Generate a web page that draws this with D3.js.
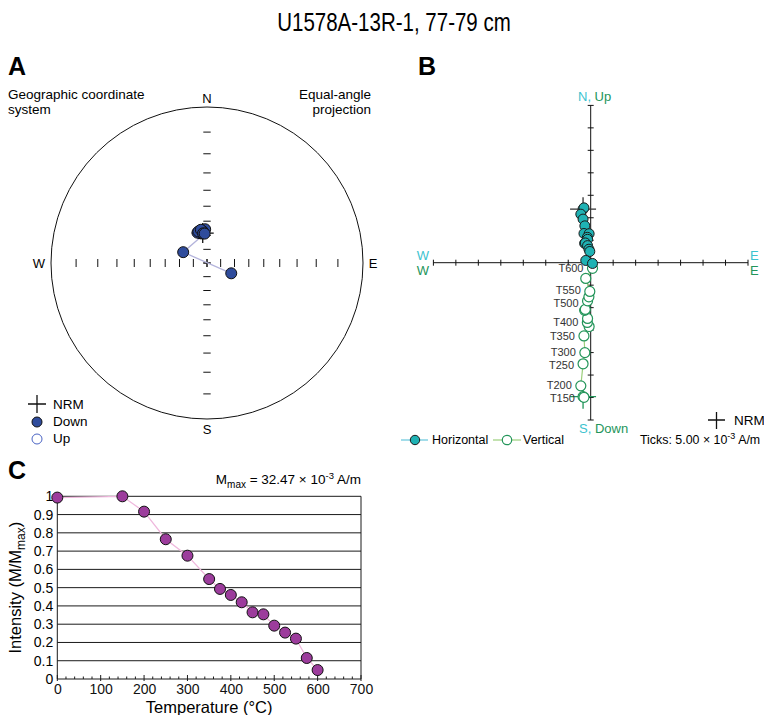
<!DOCTYPE html>
<html lang="en">
<head>
<meta charset="UTF-8">
<title>U1578A-13R-1, 77-79 cm</title>
<script src="https://d3js.org/d3.v7.min.js"></script>
<style>
  body { margin: 0; background: #fff; }
  svg { display: block; font-family: "Liberation Sans", Arial, sans-serif; }
</style>
</head>
<body>
<div id="chart"></div>
<script>
// demagnetization steps (NRM plotted at 0 °C)
const steps = ["NRM", "T150", "T200", "T250", "T300", "T350", "T375", "T400",
               "T425", "T450", "T475", "T500", "T525", "T550", "T575", "T600"];
const temps = [0, 150, 200, 250, 300, 350, 375, 400, 425, 450, 475, 500, 525, 550, 575, 600];
const intensity = [0.993, 1.0, 0.916, 0.765, 0.675, 0.547, 0.493, 0.46, 0.42, 0.365,
                   0.354, 0.292, 0.254, 0.221, 0.115, 0.049];
// vector components in 10^-3 A/m
const east  = [-1.7, -1.5, -2.2, -1.7, -1.3, -1.5, -0.35, -0.75, -0.7, -1.35, -1.2, -0.7, -0.4, -0.2, -1.1, 0.4];
const north = [11.9, 12.2, 10.8, 9.7, 8.2, 6.5, 6.45, 5.65, 5.2, 4.3, 4.4, 3.8, 3.0, 2.5, 0.5, -0.17];
const down  = [29.8, 29.95, 27.4, 22.5, 20.0, 16.3, 14.2, 13.3, 12.4, 10.6, 10.4, 8.5, 7.6, 6.4, 3.5, 1.25];
const labelled = ["T150", "T200", "T250", "T300", "T350", "T400", "T500", "T550", "T600"];

const zTicks = d3.range(-35, 36, 5);
const incTicks = d3.range(10, 90, 10);
const tempTicks = d3.range(0, 701, 100);
const tempMinor = d3.range(0, 701, 20);
const intTicks = d3.range(0, 11).map(d => d / 10);

const cyan = "#3cc3cf", green = "#23955a";

const svg = d3.select("#chart").append("svg")
    .attr("width", 764)
    .attr("height", 715);

// title and panel letters
svg.append("g")
    .attr("transform", "translate(394,31) scale(0.82,1)")
  .append("text")
    .attr("text-anchor", "middle")
    .style("font-size", "25px")
    .text("U1578A-13R-1, 77-79 cm");

[["A", 8, 75], ["B", 418, 75], ["C", 8, 479]].forEach(([t, x, y]) => {
  svg.append("text").attr("x", x).attr("y", y)
      .style("font-size", "25px").style("font-weight", "bold")
      .text(t);
});

// ---------- A: equal-angle stereonet ----------
const cx = 207, cy = 263, R = 156;
const proj = d3.geoStereographic()
    .scale(R)
    .translate([cx, cy])
    .rotate([0, -90]);
const pt = (dec, inc) => proj([180 - dec, inc]);

const dirs = steps.map((s, i) => ({
  step: s,
  dec: Math.atan2(east[i], north[i]) * 180 / Math.PI,
  inc: Math.atan2(down[i], Math.hypot(east[i], north[i])) * 180 / Math.PI
}));

const A = svg.append("g");
A.append("circle").attr("cx", cx).attr("cy", cy).attr("r", R)
    .attr("fill", "none").attr("stroke", "#111");

// axis ticks every 10° of inclination
incTicks.concat([90]).forEach(inc => {
  [0, 180].forEach(dec => {
    const [x, y] = pt(dec, inc);
    A.append("line").attr("x1", x - 3.7).attr("x2", x + 3.7).attr("y1", y).attr("y2", y)
        .attr("stroke", "#111");
  });
  [90, 270].forEach(dec => {
    const [x, y] = pt(dec, inc);
    A.append("line").attr("x1", x).attr("x2", x).attr("y1", y - 4).attr("y2", y + 4)
        .attr("stroke", "#111");
  });
});

const dirText = [["N", cx, 103], ["S", cx, 434], ["W", 39, 268], ["E", 373, 268]];
dirText.forEach(([t, x, y]) => {
  A.append("text").attr("x", x).attr("y", y).attr("text-anchor", "middle")
      .style("font-size", "13px").text(t);
});

A.append("text").attr("x", 8).attr("y", 99).style("font-size", "13.5px").text("Geographic coordinate");
A.append("text").attr("x", 8).attr("y", 114).style("font-size", "13.5px").text("system");
A.append("text").attr("x", 371).attr("y", 99).attr("text-anchor", "end").style("font-size", "13.5px").text("Equal-angle");
A.append("text").attr("x", 371).attr("y", 114).attr("text-anchor", "end").style("font-size", "13.5px").text("projection");

// NRM cross
const nrmA = pt(dirs[0].dec, dirs[0].inc);
A.append("path")
    .attr("d", `M${nrmA[0] - 11},${nrmA[1]}h22M${nrmA[0]},${nrmA[1] - 10}v20`)
    .attr("stroke", "#111").attr("stroke-width", 1.3);

A.append("path")
    .datum(dirs)
    .attr("fill", "none")
    .attr("stroke", "#b4b4dc")
    .attr("stroke-width", 1.3)
    .attr("d", d3.line().x(d => pt(d.dec, d.inc)[0]).y(d => pt(d.dec, d.inc)[1]));

A.selectAll(".dir")
  .data(dirs)
  .join("circle")
    .attr("cx", d => pt(d.dec, d.inc)[0])
    .attr("cy", d => pt(d.dec, d.inc)[1])
    .attr("r", 5.5)
    .attr("fill", d => d.inc >= 0 ? "#2f4c9c" : "#fff")
    .attr("stroke", "#111");

// legend A
A.append("path").attr("d", "M28,404h18M37,395v18").attr("stroke", "#111").attr("stroke-width", 1.3);
A.append("text").attr("x", 53).attr("y", 409).style("font-size", "13.5px").text("NRM");
A.append("circle").attr("cx", 37).attr("cy", 422).attr("r", 5).attr("fill", "#2f4c9c").attr("stroke", "#111");
A.append("text").attr("x", 53).attr("y", 426).style("font-size", "13.5px").text("Down");
A.append("circle").attr("cx", 37).attr("cy", 439).attr("r", 5).attr("fill", "#fff").attr("stroke", "#4a64c4");
A.append("text").attr("x", 53).attr("y", 443).style("font-size", "13.5px").text("Up");

// ---------- B: Zijderveld diagram ----------
const zx = d3.scaleLinear().domain([-35, 35]).range([433.4, 748]);
const zy = d3.scaleLinear().domain([-35, 35]).range([420, 105.4]);
const B = svg.append("g");

B.append("line").attr("x1", zx(-35)).attr("x2", zx(35)).attr("y1", zy(0)).attr("y2", zy(0)).attr("stroke", "#111");
B.append("line").attr("x1", zx(0)).attr("x2", zx(0)).attr("y1", zy(-35)).attr("y2", zy(35)).attr("stroke", "#111");
zTicks.filter(v => v !== 0).forEach(v => {
  B.append("line").attr("x1", zx(v)).attr("x2", zx(v)).attr("y1", zy(0) - 3).attr("y2", zy(0) + 3).attr("stroke", "#111");
  B.append("line").attr("x1", zx(0) - 3).attr("x2", zx(0) + 3).attr("y1", zy(v)).attr("y2", zy(v)).attr("stroke", "#111");
});

const twoTone = (x, y, a, b) => {
  const t = B.append("text").attr("x", x).attr("y", y).style("font-size", "13px");
  t.append("tspan").attr("fill", cyan).text(a);
  t.append("tspan").attr("fill", green).text(b);
};
twoTone(578, 101, "N,", " Up");
twoTone(579, 433, "S,", " Down");
B.append("text").attr("x", 429).attr("y", 260).attr("text-anchor", "end").attr("fill", cyan).style("font-size", "13px").text("W");
B.append("text").attr("x", 429).attr("y", 275).attr("text-anchor", "end").attr("fill", green).style("font-size", "13px").text("W");
B.append("text").attr("x", 750).attr("y", 260).attr("fill", cyan).style("font-size", "13px").text("E");
B.append("text").attr("x", 750).attr("y", 275).attr("fill", green).style("font-size", "13px").text("E");

const vecs = steps.map((s, i) => ({ step: s, e: east[i], n: north[i], d: down[i] }));

// NRM crosses
const h0 = [zx(vecs[0].e), zy(vecs[0].n)], v0 = [zx(vecs[0].e), zy(-vecs[0].d)];
B.append("path").attr("d", `M${h0[0] - 13},${h0[1]}h26M${h0[0]},${h0[1] - 12}v24`)
    .attr("stroke", "#333").attr("stroke-width", 1.3);
B.append("path").attr("d", `M${v0[0] - 13},${v0[1]}h26M${v0[0]},${v0[1] - 12}v24`)
    .attr("stroke", green).attr("stroke-width", 1.3);

B.append("path").datum(vecs)
    .attr("fill", "none").attr("stroke", "#9ccf7c").attr("stroke-width", 1.2)
    .attr("d", d3.line().x(d => zx(d.e)).y(d => zy(-d.d)));
B.append("path").datum(vecs)
    .attr("fill", "none").attr("stroke", "#66c6dc").attr("stroke-width", 1.2)
    .attr("d", d3.line().x(d => zx(d.e)).y(d => zy(d.n)));

B.selectAll(".vert")
  .data(vecs)
  .join("circle")
    .attr("cx", d => zx(d.e)).attr("cy", d => zy(-d.d))
    .attr("r", 5).attr("fill", "#fff").attr("stroke", green).attr("stroke-width", 1.2);
B.selectAll(".hor")
  .data(vecs)
  .join("circle")
    .attr("cx", d => zx(d.e)).attr("cy", d => zy(d.n))
    .attr("r", 5).attr("fill", "#1fb2b4").attr("stroke", "#1a1a1a");

// step labels, nudged apart so they do not collide
const labs = vecs.filter(d => labelled.includes(d.step))
    .map(d => ({ step: d.step, x: zx(d.e) - 9, y: zy(-d.d) }))
    .sort((a, b) => a.y - b.y);
for (let k = 0; k < 30; k++) {
  for (let i = 1; i < labs.length; i++) {
    const gap = labs[i].y - labs[i - 1].y;
    if (gap < 13) {
      const shift = (13 - gap) / 2;
      labs[i - 1].y -= shift;
      labs[i].y += shift;
    }
  }
}
B.selectAll(".lab")
  .data(labs)
  .join("text")
    .attr("x", d => d.x).attr("y", d => d.y + 4)
    .attr("text-anchor", "end")
    .attr("fill", "#333")
    .style("font-size", "11px")
    .text(d => d.step);

// legend B
B.append("path").attr("d", "M401,440h27").attr("stroke", "#66c6dc").attr("stroke-width", 1.2);
B.append("circle").attr("cx", 415).attr("cy", 440).attr("r", 4.7).attr("fill", "#1fb2b4").attr("stroke", "#1a1a1a");
B.append("text").attr("x", 432).attr("y", 444).style("font-size", "12.5px").text("Horizontal");
B.append("path").attr("d", "M493,440h28").attr("stroke", "#9ccf7c").attr("stroke-width", 1.2);
B.append("circle").attr("cx", 507).attr("cy", 440).attr("r", 4.7).attr("fill", "#fff").attr("stroke", green).attr("stroke-width", 1.2);
B.append("text").attr("x", 523).attr("y", 444).style("font-size", "12.5px").text("Vertical");
B.append("path").attr("d", "M708,420h17M716.5,412v17").attr("stroke", "#111").attr("stroke-width", 1.3);
B.append("text").attr("x", 734).attr("y", 425).style("font-size", "13.5px").text("NRM");
const tk = B.append("text").attr("x", 640).attr("y", 444).style("font-size", "12.4px");
tk.append("tspan").text("Ticks: 5.00 × 10");
tk.append("tspan").attr("dy", -5).style("font-size", "9px").text("-3");
tk.append("tspan").attr("dy", 5).text(" A/m");

// ---------- C: intensity decay ----------
const x = d3.scaleLinear().domain([0, 700]).range([57.3, 361]);
const y = d3.scaleLinear().domain([0, 1]).range([679, 496.3]);
const C = svg.append("g");

intTicks.forEach(v => {
  C.append("line").attr("x1", x(0)).attr("x2", x(700)).attr("y1", y(v)).attr("y2", y(v))
      .attr("stroke", "#1a1a1a");
  C.append("text").attr("x", x(0) - 4).attr("y", y(v) + 5).attr("text-anchor", "end")
      .style("font-size", "14px")
      .text(v === 0 ? "0" : v === 1 ? "1" : v.toFixed(1));
});
C.append("line").attr("x1", x(0)).attr("x2", x(0)).attr("y1", y(0)).attr("y2", y(1)).attr("stroke", "#1a1a1a");
C.append("line").attr("x1", x(700)).attr("x2", x(700)).attr("y1", y(0)).attr("y2", y(1)).attr("stroke", "#1a1a1a");
tempMinor.forEach(v => {
  const major = v % 100 === 0;
  C.append("line").attr("x1", x(v)).attr("x2", x(v))
      .attr("y1", y(0) - (major ? 4 : 2.5)).attr("y2", y(0) + (major ? 2 : 0))
      .attr("stroke", "#1a1a1a");
});
C.append("g")
    .attr("transform", `translate(0,${y(0)})`)
    .call(d3.axisBottom(x).tickValues(tempTicks).tickSize(0).tickPadding(5))
    .call(g => g.select(".domain").remove())
    .call(g => g.selectAll("text").style("font-size", "14px").attr("fill", "#111")
        .style("font-family", "Liberation Sans, Arial, sans-serif"));

C.append("text").attr("x", x(350)).attr("y", 713).attr("text-anchor", "middle")
    .style("font-size", "16.5px").text("Temperature (°C)");
const yl = C.append("text").attr("transform", `translate(21,${y(0.5)}) rotate(-90)`)
    .attr("text-anchor", "middle").style("font-size", "16.5px");
yl.append("tspan").text("Intensity (M/M");
yl.append("tspan").attr("dy", 4).style("font-size", "12px").text("max");
yl.append("tspan").attr("dy", -4).text(")");

const mm = C.append("text").attr("x", x(700)).attr("y", 484).attr("text-anchor", "end")
    .style("font-size", "13.5px");
mm.append("tspan").text("M");
mm.append("tspan").attr("dy", 3.5).style("font-size", "10px").text("max");
mm.append("tspan").attr("dy", -3.5).text(" = 32.47 × 10");
mm.append("tspan").attr("dy", -5).style("font-size", "9.5px").text("-3");
mm.append("tspan").attr("dy", 5).text(" A/m");

C.append("path").datum(temps)
    .attr("fill", "none").attr("stroke", "#efb8dd").attr("stroke-width", 1.3)
    .attr("d", d3.line().x(d => x(d)).y((d, i) => y(intensity[i])));
C.selectAll(".int")
  .data(temps)
  .join("circle")
    .attr("cx", d => x(d)).attr("cy", (d, i) => y(intensity[i]))
    .attr("r", 5.5).attr("fill", "#9c3c9c").attr("stroke", "#111");
</script>
</body>
</html>
